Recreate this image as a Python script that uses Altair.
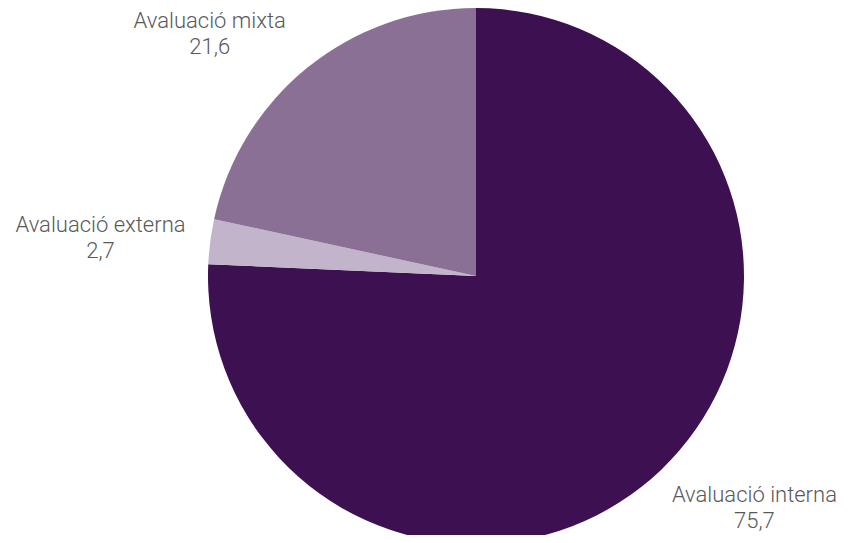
import altair as alt
import pandas as pd

categories = ["Avaluació interna", "Avaluació externa", "Avaluació mixta"]
values = [75.7, 2.7, 21.6]
value_labels = ["75,7", "2,7", "21,6"]
colors = ["#3D1052", "#C2B4CB", "#8A7095"]

df = pd.DataFrame({
    "cat": categories,
    "val": values,
    "lab": value_labels,
    "idx": list(range(len(categories))),
})
df["text"] = [[c, l] for c, l in zip(categories, value_labels)]

CX, CY = 468, 268
R = 268

base = alt.Chart(df).encode(
    theta=alt.Theta("val:Q", stack=True),
    order=alt.Order("idx:Q", sort="ascending"),
)

pie = base.mark_arc(outerRadius=R, stroke=None).encode(
    color=alt.Color("cat:N", scale=alt.Scale(domain=categories, range=colors), legend=None),
    x=alt.value(CX),
    y=alt.value(CY),
)

offsets = {
    "Avaluació interna": (71, 2),
    "Avaluació externa": (-78, -12),
    "Avaluació mixta": (-78, -21),
}

layers = [pie]
for c in categories:
    dx, dy = offsets[c]
    layers.append(
        base.mark_text(
            radius=300, dx=dx, dy=dy, font="Roboto", fontWeight=300, fontSize=22,
            color="#595959", align="center", baseline="middle", lineHeight=26,
        ).encode(
            text="text",
            x=alt.value(CX),
            y=alt.value(CY),
            opacity=alt.condition(alt.datum.cat == c, alt.value(1), alt.value(0)),
        )
    )

chart = alt.layer(*layers).properties(
    width=832, height=527, autosize=alt.AutoSizeParams(type="none"), padding=0
).configure_view(stroke=None)

chart.save("out.html", embed_options={"renderer": "svg", "actions": False})
